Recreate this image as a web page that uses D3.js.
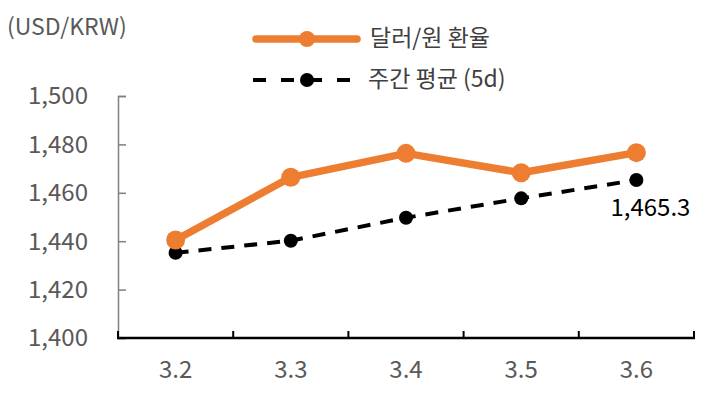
<!DOCTYPE html>
<html>
<head>
<meta charset="utf-8">
<script src="https://cdn.jsdelivr.net/npm/d3@7/dist/d3.min.js"></script>
<style>
  body { margin: 0; background: #fff; }
  text { font-family: "Noto Sans CJK KR", "Noto Sans", sans-serif; }
</style>
</head>
<body>
<svg id="chart" width="709" height="394"></svg>
<script>
// data
const dates = ["3.2", "3.3", "3.4", "3.5", "3.6"];
const fxRate = [1440.5, 1466.4, 1476.3, 1468.3, 1476.6];
const weekAvg = [1435.2, 1440.2, 1449.7, 1457.7, 1465.3];
const yTicks = [1400, 1420, 1440, 1460, 1480, 1500];
const seriesNames = ["달러/원 환율", "주간 평균 (5d)"];

const orange = "#ED7D31";
const svg = d3.select("#chart");

const x = d3.scaleBand().domain(dates).range([118, 694]);
const y = d3.scaleLinear().domain([1400, 1500]).range([338, 96]);

// y axis (gray, ticks inward)
const yAxis = svg.append("g")
    .attr("transform", "translate(118,0)")
    .call(d3.axisRight(y).tickValues(yTicks).tickSize(8).tickFormat(""));
yAxis.select(".domain").attr("stroke", "#7f7f7f").attr("stroke-width", 1.5);
yAxis.selectAll(".tick line").attr("stroke", "#7f7f7f").attr("stroke-width", 1.5);

svg.append("g").selectAll("text")
    .data(yTicks)
    .join("text")
    .attr("x", 88)
    .attr("y", d => y(d))
    .attr("dy", "0.35em")
    .attr("text-anchor", "end")
    .attr("font-size", 24)
    .attr("fill", "#595959")
    .text(d3.format(","));

// x axis (black, ticks up at band edges)
const edges = dates.map(d => x(d)).concat([x.range()[1]]);
const xAxis = svg.append("g");
xAxis.append("line")
    .attr("x1", 117).attr("x2", 695)
    .attr("y1", y(1400)).attr("y2", y(1400))
    .attr("stroke", "#000").attr("stroke-width", 2.5);
xAxis.selectAll("line.tk")
    .data(edges)
    .join("line")
    .attr("class", "tk")
    .attr("x1", d => d).attr("x2", d => d)
    .attr("y1", y(1400)).attr("y2", y(1400) - 7)
    .attr("stroke", "#000").attr("stroke-width", 2);
xAxis.selectAll("text")
    .data(dates)
    .join("text")
    .attr("x", d => x(d) + x.bandwidth() / 2)
    .attr("y", 370)
    .attr("dy", "0.35em")
    .attr("text-anchor", "middle")
    .attr("font-size", 24)
    .attr("fill", "#595959")
    .text(d => d);

// unit label
svg.append("text")
    .attr("x", 7).attr("y", 27).attr("dy", "0.35em")
    .attr("font-size", 23).attr("fill", "#595959")
    .text("(USD/KRW)");

const cx = (d, i) => x(dates[i]) + x.bandwidth() / 2;
const line = d3.line().x(cx).y(d => y(d));

// weekly average (dashed black)
svg.append("path")
    .datum(weekAvg)
    .attr("fill", "none")
    .attr("stroke", "#000")
    .attr("stroke-width", 4)
    .attr("stroke-dasharray", "13,10")
    .attr("d", line);
svg.append("g").selectAll("circle")
    .data(weekAvg)
    .join("circle")
    .attr("cx", cx)
    .attr("cy", d => y(d))
    .attr("r", 7)
    .attr("fill", "#000");

// fx rate (orange)
svg.append("path")
    .datum(fxRate)
    .attr("fill", "none")
    .attr("stroke", orange)
    .attr("stroke-width", 7.5)
    .attr("stroke-linejoin", "round")
    .attr("d", line);
svg.append("g").selectAll("circle")
    .data(fxRate)
    .join("circle")
    .attr("cx", cx)
    .attr("cy", d => y(d))
    .attr("r", 9.5)
    .attr("fill", orange);

// last value label
const last = weekAvg.length - 1;
svg.append("text")
    .attr("x", cx(weekAvg[last], last) + 54)
    .attr("y", y(weekAvg[last]) + 28)
    .attr("dy", "0.35em")
    .attr("text-anchor", "end")
    .attr("font-size", 24)
    .attr("fill", "#000")
    .text(d3.format(",.1f")(weekAvg[last]));

// legend
const lg = svg.append("g");
lg.append("line")
    .attr("x1", 256).attr("x2", 357).attr("y1", 39).attr("y2", 39)
    .attr("stroke", orange).attr("stroke-width", 7.5).attr("stroke-linecap", "round");
lg.append("circle").attr("cx", 307).attr("cy", 39).attr("r", 8).attr("fill", orange);
lg.append("text")
    .attr("x", 370).attr("y", 38).attr("dy", "0.35em")
    .attr("font-size", 23).attr("fill", "#404040")
    .text(seriesNames[0]);

lg.append("line")
    .attr("x1", 253).attr("x2", 356).attr("y1", 80).attr("y2", 80)
    .attr("stroke", "#000").attr("stroke-width", 4)
    .attr("stroke-dasharray", "13,15");
lg.append("circle").attr("cx", 307).attr("cy", 80).attr("r", 7).attr("fill", "#000");
lg.append("text")
    .attr("x", 368).attr("y", 79).attr("dy", "0.35em")
    .attr("font-size", 23).attr("fill", "#404040")
    .text(seriesNames[1]);
</script>
</body>
</html>
